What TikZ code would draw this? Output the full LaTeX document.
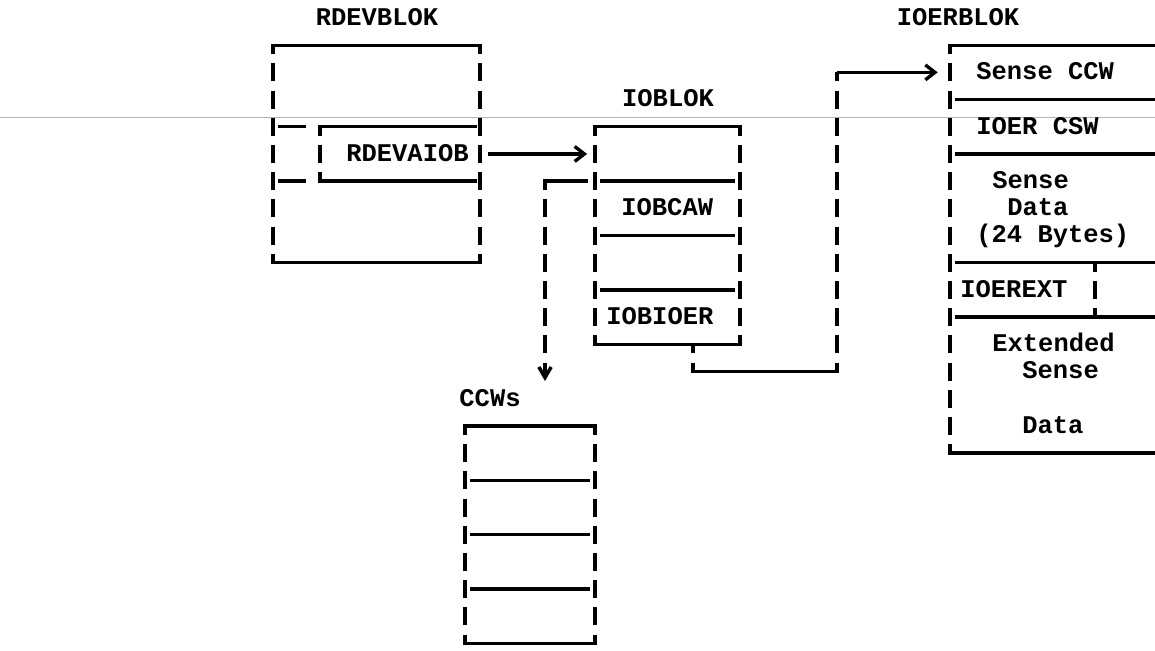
\documentclass[tikz,border=0pt]{standalone}
\usepackage{fontspec}
\setmonofont{Liberation Mono}
\usepackage{tikz}
\usetikzlibrary{arrows.meta,fit}

\newcommand{\blokrim}[1]{%
  \draw[rim] (#1.north west) -- (#1.north east);
  \draw[rim] (#1.south west) -- (#1.south east);
  \draw[side] (#1.north west) -- (#1.south west);
  \draw[side] (#1.north east) -- (#1.south east);}

\begin{document}
\begin{tikzpicture}[
  x=0.02cm, y=-0.544cm,
  font=\ttfamily\bfseries\fontsize{14.5}{17}\selectfont,
  blok/.style={inner sep=0pt, outer sep=0pt},
  rim/.style={line width=1.9pt, line cap=rect},
  side/.style={line width=2pt, dash pattern=on 10.24pt off 5.24pt, dash phase=5.12pt},
  ptr/.style={line width=1.9pt, -{Straight Barb[length=5.5pt, width=8.5pt]}},
  vptr/.style={side, -{Straight Barb[length=6pt, width=7pt]}},
  ttl/.style={inner sep=0pt, text height=8.4pt, text depth=0pt},
  fld/.style={ttl, anchor=west},
  scan/.style={gray!60, line width=0.5pt},
]
\useasboundingbox (0,-0.6618) rectangle (1155,23.272);
\draw[scan] (0,3.64) -- (1155,3.64);

% the blocks
\node[blok, fit={(273,1) (480,9)}] (rdev) {};
\node[blok, fit={(320,4) (480,6)}] (aiob) {};
\node[blok, fit={(595,4) (740,12)}] (iob) {};
\node[blok, fit={(465,15) (595,23)}] (ccw) {};
\node[blok, fit={(950,1) (1155,16)}] (ioer) {};

\node[ttl] (rdevttl) at (377,0) {RDEVBLOK};
\node[ttl] (iobttl) at (668,3) {IOBLOK};
\node[ttl] (ccwttl) at (490,14) {CCWs};
\node[ttl] (ioerttl) at (958,0) {IOERBLOK};

\node[fld] (aiobtxt) at (346,5) {RDEVAIOB};
\node[fld] (cawtxt) at (621,7) {IOBCAW};
\node[fld] (biotxt) at (606,11) {IOBIOER};
\node[fld] (sccw) at (976,2) {Sense CCW};
\node[fld] (ecsw) at (976,4) {IOER CSW};
\node[fld] (sdat1) at (992,6) {Sense};
\node[fld] (sdat2) at (1007,7) {Data};
\node[fld] (sdat3) at (976,8) {(24 Bytes)};
\node[fld] (eext) at (960,10) {IOEREXT};
\node[fld] (xdat1) at (992,12) {Extended};
\node[fld] (xdat2) at (1022,13) {Sense};
\node[fld] (xdat3) at (1022,15) {Data};

\blokrim{rdev}
\blokrim{iob}
\blokrim{ccw}
\draw[rim] (ioer.north west) -- (ioer.north east);
\draw[rim] (ioer.south west) -- (ioer.south east);
\draw[side] (ioer.north west) -- (ioer.south west);

% RDEVAIOB field
\draw[rim] (aiob.north west) -- (475,4);
\draw[rim] (aiob.south west) -- (475,6);
\draw[side] (aiob.north west) -- (aiob.south west);
\draw[rim] (280,4) -- (304,4);
\draw[rim] (280,6) -- (304,6);

% dividers
\foreach \r in {6,8,10} \draw[rim] (602,\r) -- (733,\r);
\foreach \r in {17,19,21} \draw[rim] (472,\r) -- (588,\r);
\foreach \r in {3,5,9,11} \draw[rim] (957,\r) -- (1155,\r);
\draw[side] (1095,9) -- (1095,11);

% pointers
\draw[ptr, shorten <=4.5pt, shorten >=4.5pt] (aiob.east) -- (aiob.east -| iob.west);

\coordinate (cawfld) at (595,6);
\coordinate (cawbend) at (545,6);
\coordinate (cawtip) at (545,13.35);
\draw[rim] ([xshift=-5pt]cawfld) -- (cawbend);
\draw[vptr] (cawbend) -- (cawtip);

\coordinate (biofld) at (693,12);
\coordinate (biolow) at (693,13);
\coordinate (bioup) at (837,13);
\coordinate (biotop) at (837,2);
\draw[side] (biofld) -- (biolow);
\draw[rim] (biolow) -- (bioup);
\draw[side] (bioup) -- (biotop);
\draw[ptr, shorten >=7pt] (biotop) -- (biotop -| ioer.west);
\end{tikzpicture}
\end{document}
